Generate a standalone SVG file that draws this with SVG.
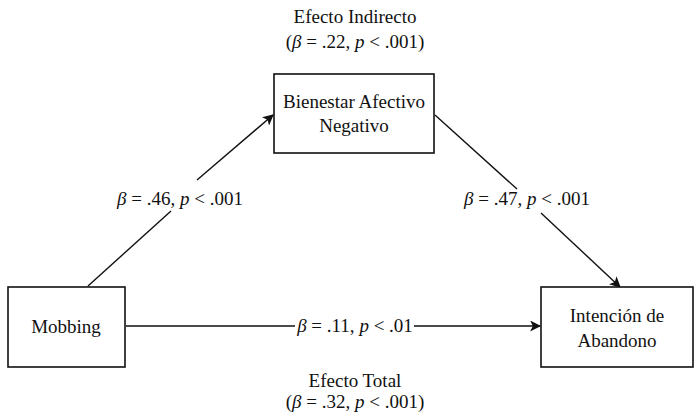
<svg xmlns="http://www.w3.org/2000/svg" width="695" height="412" viewBox="0 0 695 412">
<style>
text{font-family:"Liberation Serif","DejaVu Serif","Times New Roman",serif;font-size:19px;fill:#111;}
.c{text-anchor:middle;}
.box{fill:#fff;stroke:#111;stroke-width:1.6;}
.ln{stroke:#111;stroke-width:1.4;fill:none;}
.i{font-style:italic;}
</style>
<defs>
<marker id="ah" viewBox="0 0 10 10" refX="9" refY="5" markerWidth="11" markerHeight="11" markerUnits="userSpaceOnUse" orient="auto">
<path d="M0,0 L10,5 L0,10 L2.5,5 Z" fill="#111"/>
</marker>
</defs>
<rect width="695" height="412" fill="#fff"/>
<g id="connectors">
<path class="ln" d="M88,286 L171,211"/>
<path class="ln" d="M197,180 L273,115" marker-end="url(#ah)"/>
<path class="ln" d="M435,115 L517,189"/>
<path class="ln" d="M541,213 L620,287" marker-end="url(#ah)"/>
<path class="ln" d="M126,326 L295,326"/>
<path class="ln" d="M414,326 L540,326" marker-end="url(#ah)"/>
</g>
<g id="mobbing">
<rect class="box" x="8" y="287" width="117" height="80"/>
<text class="c" x="66" y="333">Mobbing</text>
</g>
<g id="bienestar">
<rect class="box" x="274" y="74" width="160" height="79"/>
<text class="c" x="354" y="108">Bienestar Afectivo</text>
<text class="c" x="354" y="132">Negativo</text>
</g>
<g id="intencion">
<rect class="box" x="541" y="287" width="152" height="80"/>
<text class="c" x="617" y="322">Intención de</text>
<text class="c" x="617" y="347">Abandono</text>
</g>
<g id="labels">
<text class="c" x="355" y="23">Efecto Indirecto</text>
<text class="c" x="355" y="48">(<tspan class="i">β</tspan> = .22, <tspan class="i">p</tspan> &lt; .001)</text>
<text class="c" x="180" y="205"><tspan class="i">β</tspan> = .46, <tspan class="i">p</tspan> &lt; .001</text>
<text class="c" x="527" y="205"><tspan class="i">β</tspan> = .47, <tspan class="i">p</tspan> &lt; .001</text>
<text class="c" x="355" y="332"><tspan class="i">β</tspan> = .11, <tspan class="i">p</tspan> &lt; .01</text>
<text class="c" x="355" y="387">Efecto Total</text>
<text class="c" x="355" y="408">(<tspan class="i">β</tspan> = .32, <tspan class="i">p</tspan> &lt; .001)</text>
</g>
</svg>
